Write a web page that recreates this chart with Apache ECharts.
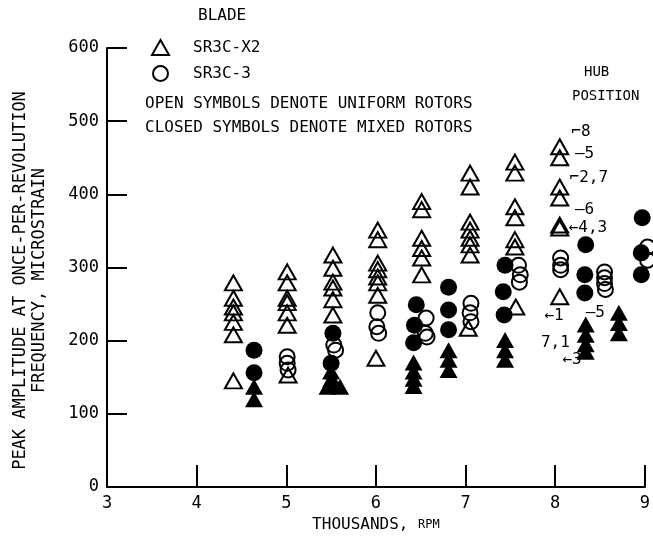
<!DOCTYPE html>
<html><head><meta charset="utf-8">
<script src="https://cdn.jsdelivr.net/npm/echarts@6/dist/echarts.min.js"></script>
<style>html,body{margin:0;padding:0;background:#fff}#c{width:653px;height:540px}</style>
</head><body><div id="c"></div>
<script>
// ---- data (thousands rpm, microstrain) ----
var xTicks = [3, 4, 5, 6, 7, 8, 9];
var yTicks = [0, 100, 200, 300, 400, 500, 600];
var openTriangles = [ // SR3C-X2, uniform rotors
  [4.41,279],[4.41,258],[4.41,246],[4.41,238],[4.41,225],[4.41,208],[4.41,145],
  [5.01,294],[5.01,279],[5.01,258],[5.01,252],[5.01,238],[5.01,221],[5.02,153],
  [5.52,317],[5.52,299],[5.52,280],[5.52,272],[5.52,256],[5.52,235],
  [6.02,351],[6.02,338],[6.02,306],[6.02,297],[6.02,287],[6.02,279],[6.02,262],[6.0,176],
  [6.51,390],[6.51,379],[6.51,340],[6.51,326],[6.51,313],[6.51,290],
  [7.05,429],[7.05,410],[7.05,362],[7.05,351],[7.05,340],[7.05,331],[7.05,317],[7.03,217],
  [7.55,444],[7.55,429],[7.55,383],[7.55,368],[7.55,338],[7.55,328],[7.56,246],
  [8.05,465],[8.05,450],[8.05,410],[8.05,395],[8.05,358],[8.05,354],[8.05,260]
];
var openCircles = [ // SR3C-3, uniform rotors
  [5.01,178],[5.01,169],[5.02,160],
  [5.53,194],[5.55,187],
  [6.02,238],[6.01,219],[6.03,210],
  [6.56,231],[6.55,210],[6.57,205],
  [7.06,251],[7.05,238],[7.06,226],
  [7.59,303],[7.61,290],[7.6,280],
  [8.06,313],[8.06,303],[8.06,297],
  [8.55,294],[8.55,286],[8.55,278],[8.56,270],
  [9.03,328],[9.03,310]
];
var filledCircles = [ // SR3C-3, mixed rotors
  [4.64,187],[4.64,156],
  [5.52,210],[5.5,169],
  [6.45,249],[6.43,221],[6.42,197],
  [6.81,273],[6.81,242],[6.81,215],
  [7.44,303],[7.42,267],[7.43,235],
  [8.34,331],[8.33,290],[8.33,265],
  [8.97,368],[8.96,320],[8.96,290]
];
var filledTriangles = [ // SR3C-X2, mixed rotors
  [4.64,137],[4.64,120],
  [5.5,158],[5.5,147],[5.46,137],[5.6,137],[5.53,143],
  [6.42,170],[6.42,158],[6.42,148],[6.42,138],
  [6.81,187],[6.81,174],[6.81,160],
  [7.44,201],[7.44,187],[7.44,174],
  [8.34,222],[8.34,208],[8.34,195],[8.34,185],
  [8.71,238],[8.71,224],[8.71,210]
];
var hubLabels = [
  ['\u23108', 8.18, 485],
  ['\u20135', 8.22, 456],
  ['\u23102,7', 8.16, 422],
  ['\u20136', 8.22, 379],
  ['\u21904,3', 8.15, 354],
  ['\u21901', 7.88, 234],
  ['7,1', 7.84, 197],
  ['\u20135', 8.34, 238],
  ['\u21903', 8.08, 174]
];

var FONT = '"DejaVu Sans Mono", "Liberation Mono", monospace';
var INK = '#000';
var chart = echarts.init(document.getElementById('c'), null, {renderer: 'canvas'});
var openStyle = {color: 'rgba(0,0,0,0)', borderColor: INK, borderWidth: 2, opacity: 1};
var fillStyle = {color: INK, borderColor: INK, borderWidth: 0, opacity: 1};

chart.setOption({
  backgroundColor: '#fff',
  animation: false,
  grid: {left: 107, right: 5, top: 48, bottom: 53, containLabel: false},
  xAxis: {
    type: 'value', min: 3, max: 9, interval: 1,
    name: 'THOUSANDS, {s|RPM}', nameLocation: 'middle', nameGap: 28,
    nameTextStyle: {fontFamily: FONT, fontSize: 16, color: INK, rich: {s: {fontFamily: FONT, fontSize: 12, color: INK}}},
    axisLine: {show: true, lineStyle: {color: INK, width: 2}},
    axisTick: {show: true, inside: true, length: 22, lineStyle: {color: INK, width: 2}},
    axisLabel: {fontFamily: FONT, fontSize: 17, color: INK, margin: 8,
      formatter: function (v) { return xTicks.indexOf(v) >= 0 ? String(v) : ''; }},
    splitLine: {show: false}
  },
  yAxis: {
    type: 'value', min: 0, max: 600, interval: 100,
    name: 'PEAK AMPLITUDE AT ONCE-PER-REVOLUTION\nFREQUENCY, MICROSTRAIN',
    nameLocation: 'middle', nameGap: 58, nameRotate: 90,
    nameTextStyle: {fontFamily: FONT, fontSize: 17, color: INK, lineHeight: 19, padding: [0, 26, 0, 0]},
    axisLine: {show: true, lineStyle: {color: INK, width: 2}},
    axisTick: {show: true, inside: true, length: 20, lineStyle: {color: INK, width: 2}},
    axisLabel: {fontFamily: FONT, fontSize: 17, color: INK, margin: 8,
      formatter: function (v) { return yTicks.indexOf(v) >= 0 ? String(v) : ''; }},
    splitLine: {show: false}
  },
  legend: {
    orient: 'vertical', left: 146, top: 34, itemGap: 9, itemWidth: 17, itemHeight: 15,
    data: ['SR3C-X2', 'SR3C-3'],
    textStyle: {fontFamily: FONT, fontSize: 16, color: INK, padding: [0, 0, 0, 19]}
  },
  graphic: [
    {type: 'text', left: 198, top: 8, style: {text: 'BLADE', font: '16px ' + FONT, fill: INK}},
    {type: 'text', left: 145, top: 96, style: {text: 'OPEN SYMBOLS DENOTE UNIFORM ROTORS', font: '16px ' + FONT, fill: INK}},
    {type: 'text', left: 145, top: 120, style: {text: 'CLOSED SYMBOLS DENOTE MIXED ROTORS', font: '16px ' + FONT, fill: INK}},
    {type: 'text', left: 584, top: 65, style: {text: 'HUB', font: '14px ' + FONT, fill: INK}},
    {type: 'text', left: 572, top: 89, style: {text: 'POSITION', font: '14px ' + FONT, fill: INK}}
  ],
  series: [
    {name: 'SR3C-X2', type: 'scatter', data: openTriangles, symbol: 'triangle', symbolSize: [17, 15], itemStyle: openStyle, clip: false, z: 3},
    {name: 'SR3C-3', type: 'scatter', data: openCircles, symbol: 'circle', symbolSize: 15, itemStyle: openStyle, clip: false, z: 4},
    {name: 'SR3C-X2 mixed', type: 'scatter', data: filledTriangles, symbol: 'triangle', symbolSize: [18, 16], itemStyle: fillStyle, clip: false, z: 2},
    {name: 'SR3C-3 mixed', type: 'scatter', data: filledCircles, symbol: 'circle', symbolSize: 17, itemStyle: fillStyle, clip: false, z: 2},
    {name: 'hub', type: 'scatter', symbolSize: 0, silent: true, clip: false,
      itemStyle: {opacity: 1, color: INK},
      data: hubLabels.map(function (d) { return {name: d[0], value: [d[1], d[2]]}; }),
      label: {show: true, position: 'right', distance: 0, align: 'left', verticalAlign: 'middle',
        textBorderWidth: 0, formatter: function (p) { return p.name; }, fontFamily: FONT, fontSize: 16, color: INK}}
  ]
});
</script></body></html>
